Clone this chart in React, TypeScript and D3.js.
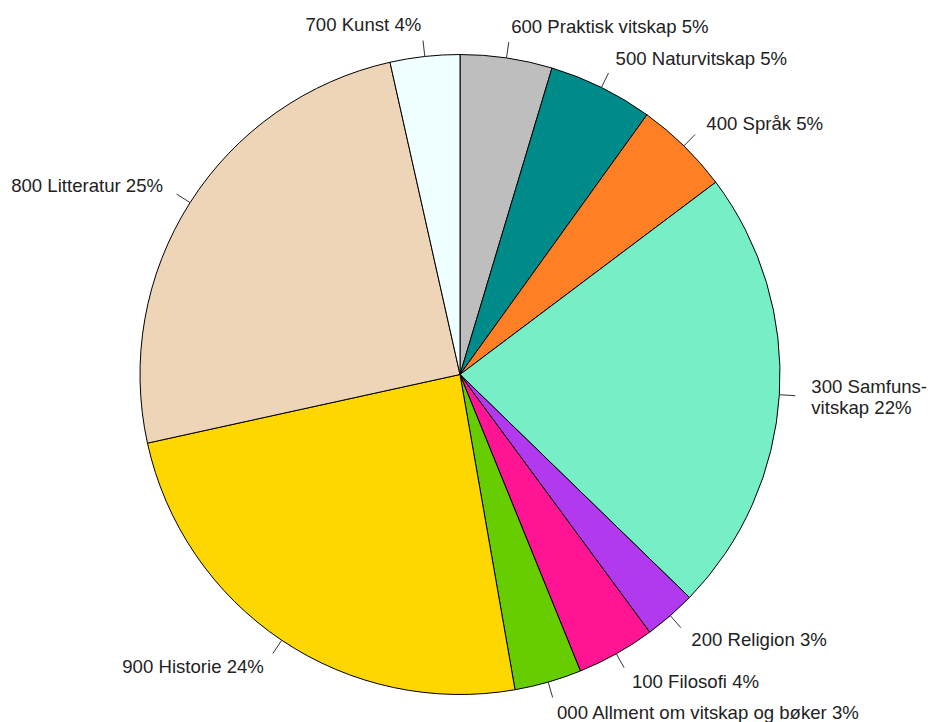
import React from "react";
import * as d3 from "d3";

const categories = [
  "600 Praktisk vitskap 5%",
  "500 Naturvitskap 5%",
  "400 Språk 5%",
  "300 Samfuns-\nvitskap 22%",
  "200 Religion 3%",
  "100 Filosofi 4%",
  "000 Allment om vitskap og bøker 3%",
  "900 Historie 24%",
  "800 Litteratur 25%",
  "700 Kunst 4%",
];
const values = [4.64, 5.29, 4.81, 22.53, 2.63, 3.96, 3.39, 24.31, 24.93, 3.51];
const colors = [
  "#BEBEBE",
  "#008B8B",
  "#FF7F24",
  "#76EEC6",
  "#B23AEE",
  "#FF1493",
  "#66CD00",
  "#FFD700",
  "#EED5B7",
  "#F0FFFF",
];

export default function App() {
  const W = 930;
  const H = 722;
  const cx = 460;
  const cy = 374.5;
  const r = 320;
  const pie = d3.pie<number>().sort(null).startAngle(0).endAngle(2 * Math.PI);
  const arcs = pie(values);
  const arcGen = d3.arc<d3.PieArcDatum<number>>().innerRadius(0).outerRadius(r);
  const fontSize = 18.6;
  const lineH = 21;

  return (
    <svg
      width={W}
      height={H}
      style={{ position: "absolute", left: 0, top: 0, background: "#fff" }}
      fontFamily="'Liberation Sans', Arial, sans-serif"
    >
      <g transform={`translate(${cx},${cy})`}>
        {arcs.map((a, i) => (
          <path key={i} d={arcGen(a) || ""} fill={colors[i]} stroke="#000" strokeWidth={1} />
        ))}
        {arcs.map((a, i) => {
          const mid = (a.startAngle + a.endAngle) / 2;
          const sx = Math.sin(mid);
          const sy = -Math.cos(mid);
          const lines = categories[i].split("\n");
          const tx = 1.1 * r * sx;
          const ty = 1.1 * r * sy;
          const anchor = sx >= 0 ? "start" : "end";
          const offset = -((lines.length - 1) * lineH) / 2;
          return (
            <g key={i}>
              <line
                x1={r * sx}
                y1={r * sy}
                x2={1.05 * r * sx}
                y2={1.05 * r * sy}
                stroke="#333"
                strokeWidth={1}
              />
              <text x={tx} y={ty} fontSize={fontSize} fill="#222" textAnchor={anchor}>
                {lines.map((l, j) => (
                  <tspan key={j} x={tx} y={ty + offset + j * lineH} dy="0.35em">
                    {l}
                  </tspan>
                ))}
              </text>
            </g>
          );
        })}
      </g>
    </svg>
  );
}
